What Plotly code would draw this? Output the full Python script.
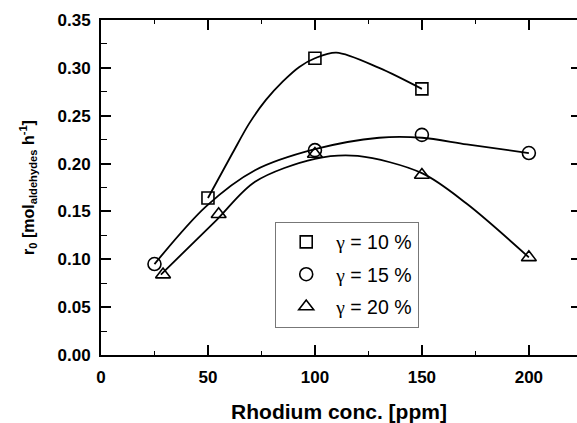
import plotly.graph_objects as go

# measured points
x10 = [50, 100, 150]
y10 = [0.164, 0.310, 0.278]
x15 = [25, 100, 150, 200]
y15 = [0.095, 0.214, 0.230, 0.211]
x20 = [29, 55, 100, 150, 200]
y20 = [0.084, 0.147, 0.210, 0.188, 0.102]

# fitted curves
fit10_x = [50, 61.5, 69.3, 77.1, 84.9, 92.7, 100, 110, 130, 150]
fit10_y = [0.164, 0.211, 0.242, 0.2665, 0.2856, 0.301, 0.310, 0.316, 0.300, 0.278]
fit15_x = [25, 49, 72, 100, 130, 150, 171, 200]
fit15_y = [0.095, 0.155, 0.193, 0.215, 0.227, 0.227, 0.220, 0.211]
fit20_x = [28, 54, 72, 100, 120, 150, 171, 200]
fit20_y = [0.084, 0.141, 0.181, 0.205, 0.208, 0.190, 0.158, 0.102]

G = '<span style="font-family:Liberation Serif">γ</span>'
names = [G + " = 10 %", G + " = 15 %", G + " = 20 %"]
symbols = ["square-open", "circle-open", "triangle-up-open"]

FONT = "Liberation Sans, Arial, sans-serif"
fig = go.Figure()
for fx, fy in [(fit10_x, fit10_y), (fit15_x, fit15_y), (fit20_x, fit20_y)]:
    fig.add_trace(go.Scatter(x=fx, y=fy, mode="lines", showlegend=False,
                             line=dict(color="black", width=1.8, shape="spline", smoothing=0.9),
                             hoverinfo="skip"))
for i, (xs, ys) in enumerate([(x10, y10), (x15, y15), (x20, y20)]):
    fig.add_trace(go.Scatter(x=xs, y=ys, mode="markers", name=names[i], legendgroup=str(i),
                             marker=dict(symbol=symbols[i], size=13 if i else 12, color="black",
                                         line=dict(width=1.6, color="black"))))

# dummy for right-side ticks
fig.add_trace(go.Scatter(x=[None], y=[None], yaxis="y2", showlegend=False))

fig.update_layout(
    width=577, height=423,
    margin=dict(l=101, r=0, t=20, b=68),
    paper_bgcolor="white", plot_bgcolor="white",
    font=dict(family=FONT, color="black"),
    showlegend=True,
    legend=dict(x=0.366, y=0.398, xanchor="left", yanchor="top",
                bordercolor="#777", borderwidth=1, bgcolor="white",
                font=dict(size=19.5, family=FONT), tracegroupgap=4,
                itemwidth=50, traceorder="grouped"),
    xaxis=dict(range=[0, 222.5], tickvals=[0, 50, 100, 150, 200],
               ticks="inside", ticklen=10, tickwidth=1.5, tickcolor="black",
               showline=True, linecolor="black", linewidth=1.8, mirror="ticks",
               showgrid=False, zeroline=False, ticklabelstandoff=6,
               minor=dict(dtick=25, ticks="inside", ticklen=4, tickwidth=1.2, tickcolor="black"),
               tickfont=dict(size=17, family=FONT, weight="bold"),
               title=dict(text="Rhodium conc. [ppm]", font=dict(size=21, family=FONT, weight="bold"),
                          standoff=18)),
    yaxis=dict(range=[0, 0.35], dtick=0.05, tickformat=".2f",
               ticks="inside", ticklen=10, tickwidth=1.5, tickcolor="black",
               showline=True, linecolor="black", linewidth=1.8, mirror=False,
               showgrid=False, zeroline=False, ticklabelstandoff=5,
               minor=dict(dtick=0.025, ticks="inside", ticklen=6, tickwidth=1.2, tickcolor="black"),
               tickfont=dict(size=17, family=FONT, weight="bold"),
               title=dict(text="r<sub>0</sub> [mol<sub>aldehydes</sub> h<sup>-1</sup>]",
                          font=dict(size=16, family=FONT, weight="bold"), standoff=19)),
    yaxis2=dict(range=[0, 0.35], dtick=0.05, overlaying="y", side="right",
                ticks="inside", ticklen=6, tickwidth=1.5, tickcolor="black",
                showticklabels=False, showline=False, showgrid=False, zeroline=False),
)

fig.write_html("out.html")
